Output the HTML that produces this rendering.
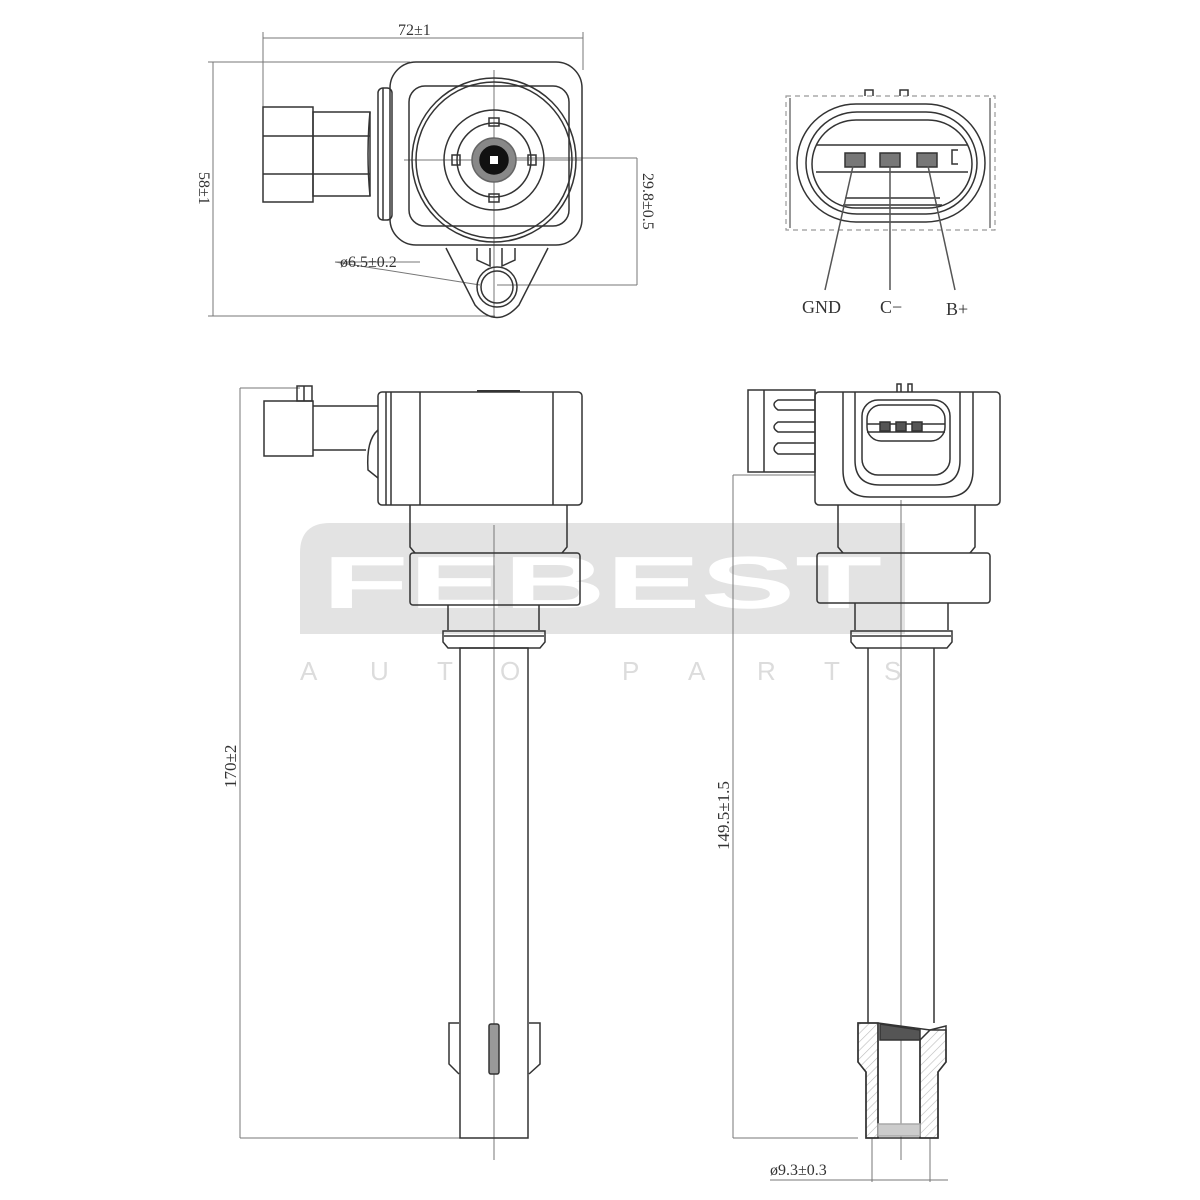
<!DOCTYPE html>
<html><head><meta charset="utf-8"><style>
html,body{margin:0;padding:0;background:#fff;width:1200px;height:1200px;overflow:hidden}
svg{display:block}
text{font-family:"Liberation Serif",serif;fill:#333}
</style></head><body>
<svg width="1200" height="1200" viewBox="0 0 1200 1200" xmlns="http://www.w3.org/2000/svg">
<defs>
<pattern id="hatch" width="6" height="6" patternUnits="userSpaceOnUse" patternTransform="rotate(45)">
<line x1="0" y1="0" x2="0" y2="6" stroke="#bbb" stroke-width="1.2"/>
</pattern>
</defs>

<!-- watermark -->
<path d="M330,523 H905 V634 H300 V553 Q300,523 330,523 Z" fill="#e3e3e3"/>
<text x="322" y="608" font-weight="bold" font-size="74" textLength="560" lengthAdjust="spacingAndGlyphs" style="fill:#fff;font-family:'Liberation Sans',sans-serif">FEBEST</text>
<g font-size="26">
<text x="300" y="680" style="fill:#dcdcdc;font-family:'Liberation Sans',sans-serif">A</text>
<text x="370" y="680" style="fill:#dcdcdc;font-family:'Liberation Sans',sans-serif">U</text>
<text x="437" y="680" style="fill:#dcdcdc;font-family:'Liberation Sans',sans-serif">T</text>
<text x="500" y="680" style="fill:#dcdcdc;font-family:'Liberation Sans',sans-serif">O</text>
<text x="622" y="680" style="fill:#dcdcdc;font-family:'Liberation Sans',sans-serif">P</text>
<text x="688" y="680" style="fill:#dcdcdc;font-family:'Liberation Sans',sans-serif">A</text>
<text x="757" y="680" style="fill:#dcdcdc;font-family:'Liberation Sans',sans-serif">R</text>
<text x="824" y="680" style="fill:#dcdcdc;font-family:'Liberation Sans',sans-serif">T</text>
<text x="884" y="680" style="fill:#dcdcdc;font-family:'Liberation Sans',sans-serif">S</text>
</g>

<g fill="none" stroke="#333" stroke-width="1.5">
<!-- ===== TOP LEFT VIEW ===== -->
<g stroke="#777" stroke-width="1">
<line x1="263" y1="38" x2="583" y2="38"/>
<line x1="263" y1="32" x2="263" y2="200"/>
<line x1="583" y1="32" x2="583" y2="70"/>
<line x1="213" y1="62" x2="213" y2="316"/>
<line x1="208" y1="62" x2="410" y2="62"/>
<line x1="208" y1="316" x2="495" y2="316"/>
<line x1="494" y1="158" x2="637" y2="158"/>
<line x1="637" y1="158" x2="637" y2="285"/>
<line x1="497" y1="285" x2="637" y2="285"/>
<line x1="335" y1="262" x2="480" y2="285"/>
<line x1="335" y1="262" x2="420" y2="262"/>
<line x1="494" y1="70" x2="494" y2="318"/>
<line x1="404" y1="160" x2="582" y2="160"/>
</g>
<rect x="390" y="62" width="192" height="183" rx="26"/>
<rect x="409" y="86" width="160" height="140" rx="16"/>
<circle cx="494" cy="160" r="82"/>
<circle cx="494" cy="160" r="78"/>
<circle cx="494" cy="160" r="50"/>
<circle cx="494" cy="160" r="37"/>
<rect x="489" y="118" width="10" height="8"/>
<rect x="489" y="194" width="10" height="8"/>
<rect x="452" y="155" width="8" height="10"/>
<rect x="528" y="155" width="8" height="10"/>
<circle cx="494" cy="160" r="22" fill="#888" stroke="#666"/>
<circle cx="494" cy="160" r="14" fill="#111" stroke="#111"/>
<rect x="490" y="156" width="8" height="8" fill="#fff" stroke="none"/>
<!-- connector -->
<rect x="263" y="107" width="50" height="95"/>
<line x1="263" y1="136" x2="313" y2="136"/>
<line x1="263" y1="174" x2="313" y2="174"/>
<rect x="313" y="112" width="57" height="84"/>
<line x1="313" y1="136" x2="370" y2="136"/>
<line x1="313" y1="174" x2="370" y2="174"/>
<path d="M370,112 Q366,154 370,196"/>
<rect x="378" y="88" width="14" height="132" rx="5"/>
<line x1="383" y1="88" x2="383" y2="220"/>
<!-- bottom tab -->
<path d="M446,248 L475,305 Q497,330 519,305 L548,248"/>
<circle cx="497" cy="287" r="20"/>
<circle cx="497" cy="287" r="16"/>
<path d="M477,248 V260 L490,266 V248 M502,248 V266 L515,260 V248"/>

<text x="398" y="35" font-size="16" stroke="none">72±1</text>
<text x="340" y="267" font-size="16" stroke="none">ø6.5±0.2</text>
<text transform="translate(199,172) rotate(90)" font-size="16" stroke="none">58±1</text>
<text transform="translate(643,173) rotate(90)" font-size="16" stroke="none">29.8±0.5</text>

<!-- ===== TOP RIGHT VIEW ===== -->
<rect x="786" y="96" width="209" height="134" stroke="#999" stroke-width="1.2" stroke-dasharray="5,4"/>
<line x1="790" y1="98" x2="790" y2="228" stroke="#777"/>
<line x1="990" y1="98" x2="990" y2="228" stroke="#777"/>
<path d="M865,96 v-6 h8 v6 M900,96 v-6 h8 v6"/>
<rect x="797" y="104" width="188" height="118" rx="59"/>
<rect x="806" y="112" width="171" height="102" rx="51"/>
<rect x="812" y="120" width="160" height="88" rx="44"/>
<line x1="816" y1="145" x2="968" y2="145"/>
<line x1="816" y1="172" x2="968" y2="172"/>
<line x1="845" y1="198" x2="940" y2="198"/>
<line x1="843" y1="205" x2="942" y2="205"/>
<rect x="845" y="153" width="20" height="14" fill="#777"/>
<rect x="880" y="153" width="20" height="14" fill="#777"/>
<rect x="917" y="153" width="20" height="14" fill="#777"/>
<path d="M958,150 h-6 v14 h6"/>
<line x1="853" y1="166" x2="825" y2="290" stroke="#555"/>
<line x1="890" y1="166" x2="890" y2="290" stroke="#555"/>
<line x1="928" y1="166" x2="955" y2="290" stroke="#555"/>
<text x="802" y="313" font-size="18" stroke="none">GND</text>
<text x="880" y="313" font-size="18" stroke="none">C−</text>
<text x="946" y="315" font-size="18" stroke="none">B+</text>

<!-- ===== LEFT SIDE VIEW ===== -->
<g stroke="#777" stroke-width="1">
<line x1="240" y1="388" x2="240" y2="1138"/>
<line x1="240" y1="388" x2="300" y2="388"/>
<line x1="240" y1="1138" x2="460" y2="1138"/>
<line x1="494" y1="525" x2="494" y2="1160"/>
</g>
<rect x="297" y="386" width="15" height="15"/>
<line x1="304" y1="386" x2="304" y2="401"/>
<rect x="264" y="401" width="49" height="55"/>
<path d="M313,406 H378 M313,450 H366"/>
<path d="M378,430 Q366,440 368,470 L378,478"/>
<rect x="378" y="392" width="204" height="113" rx="4"/>
<line x1="386" y1="392" x2="386" y2="505"/>
<line x1="391" y1="392" x2="391" y2="505"/>
<line x1="420" y1="392" x2="420" y2="505"/>
<line x1="553" y1="392" x2="553" y2="505"/>
<line x1="477" y1="391" x2="520" y2="391" stroke-width="2"/>
<path d="M410,505 V547 L415,553 M567,505 V547 L562,553"/>
<rect x="410" y="553" width="170" height="52" rx="3"/>
<path d="M448,605 V630 M539,605 V630"/>
<path d="M443,631 H545 V642 L540,648 H448 L443,642 Z"/>
<line x1="444" y1="636" x2="544" y2="636"/>
<rect x="460" y="648" width="68" height="490"/>
<path d="M459,1023 H449 V1064 L459,1074"/>
<path d="M529,1023 H540 V1064 L529,1074"/>
<rect x="489" y="1024" width="10" height="50" rx="2" fill="#999"/>

<text transform="translate(236,788) rotate(-90)" font-size="17" stroke="none">170±2</text>

<!-- ===== RIGHT SIDE VIEW ===== -->
<g stroke="#777" stroke-width="1">
<line x1="733" y1="475" x2="733" y2="1138"/>
<line x1="733" y1="475" x2="815" y2="475"/>
<line x1="733" y1="1138" x2="858" y2="1138"/>
<line x1="901" y1="500" x2="901" y2="1160"/>
<line x1="770" y1="1180" x2="948" y2="1180"/>
<line x1="872" y1="1138" x2="872" y2="1182"/>
<line x1="930" y1="1138" x2="930" y2="1182"/>
</g>
<rect x="748" y="390" width="67" height="82"/>
<line x1="764" y1="390" x2="764" y2="472"/>
<path d="M815,400 H778 Q770,404 778,410 H815 M815,422 H778 Q770,427 778,432 H815 M815,443 H778 Q770,449 778,454 H815"/>
<rect x="815" y="392" width="185" height="113" rx="4"/>
<path d="M843,392 V470 Q843,497 870,497 H946 Q973,497 973,470 V392"/>
<path d="M855,392 V460 Q855,485 880,485 H935 Q960,485 960,460 V392"/>
<path d="M897,392 v-8 h4 v8 M908,392 v-8 h4 v8"/>
<rect x="862" y="400" width="88" height="75" rx="16"/>
<rect x="867" y="405" width="78" height="36" rx="14"/>
<line x1="867" y1="424" x2="945" y2="424"/>
<line x1="867" y1="432" x2="945" y2="432"/>
<rect x="880" y="422" width="10" height="9" fill="#555"/>
<rect x="896" y="422" width="10" height="9" fill="#555"/>
<rect x="912" y="422" width="10" height="9" fill="#555"/>
<path d="M838,505 V547 L843,553 M975,505 V547 L970,553"/>
<rect x="817" y="553" width="173" height="50" rx="3"/>
<path d="M855,603 V630 M948,603 V630"/>
<path d="M851,631 H952 V642 L947,648 H856 L851,642 Z"/>
<line x1="852" y1="636" x2="951" y2="636"/>
<path d="M868,648 V1023 M934,648 V1023"/>
<!-- hatched section -->
<path d="M858,1023 H878 V1138 H866 V1072 L858,1062 Z" fill="url(#hatch)"/>
<path d="M930,1030 H946 V1062 L938,1072 V1138 H920 V1040 Z" fill="url(#hatch)"/>
<path d="M878,1023 L930,1030 L946,1026 V1062 L938,1072 V1138 H866 V1072 L858,1062 V1023 Z"/>
<line x1="878" y1="1023" x2="878" y2="1138"/>
<line x1="920" y1="1040" x2="920" y2="1138"/>
<path d="M880,1024 L920,1030 V1040 H880 Z" fill="#555"/>
<rect x="878" y="1124" width="42" height="12" fill="#ccc" stroke="#aaa"/>
<text x="770" y="1175" font-size="16" stroke="none">ø9.3±0.3</text>
<text transform="translate(729,850) rotate(-90)" font-size="17" stroke="none">149.5±1.5</text>
</g>
</svg>
</body></html>
